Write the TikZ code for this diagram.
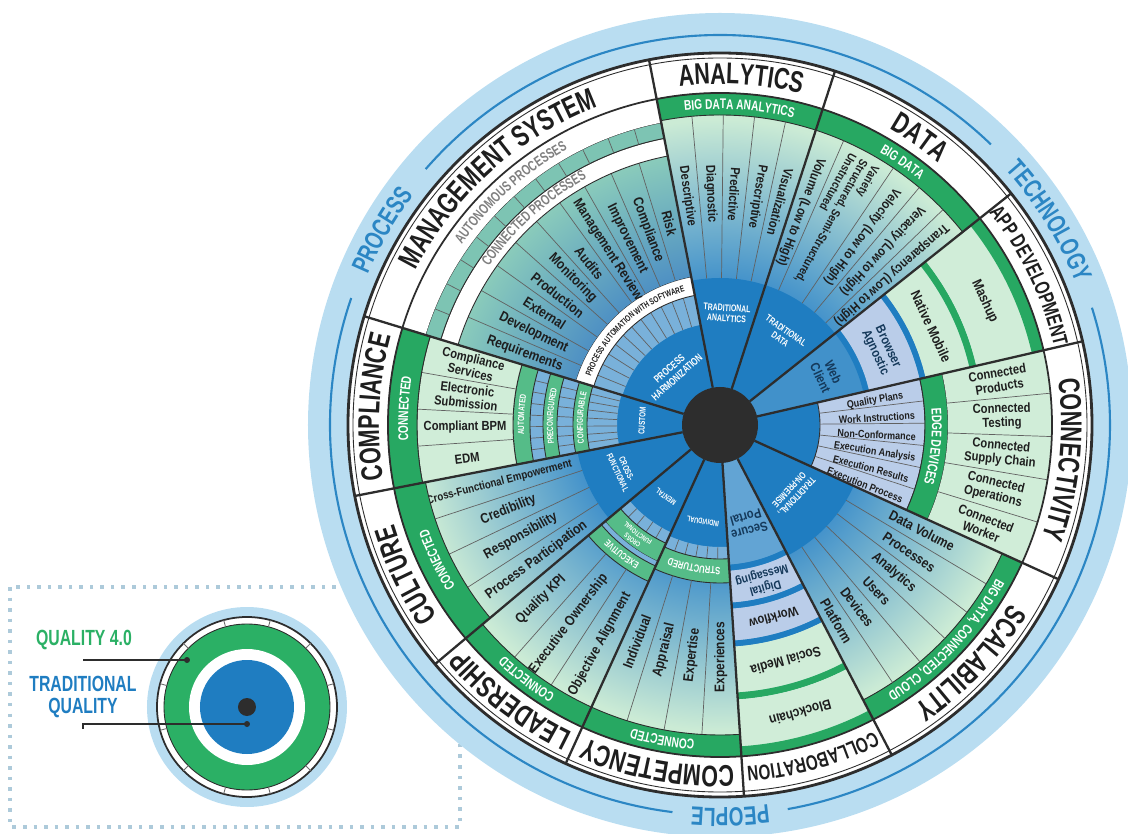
\documentclass[tikz,border=0pt]{standalone}
\usepackage{fontspec}
\setmainfont{Liberation Sans}
\newfontfamily\cond{Liberation Sans}[FakeStretch=0.72]
\newfontfamily\labf{Liberation Sans}[FakeStretch=0.85]
\usetikzlibrary{decorations.text}

\definecolor{lblue}{HTML}{B9DDF1}
\definecolor{lineblue}{HTML}{2B86C4}
\definecolor{tblue}{HTML}{1F7DC1}
\definecolor{wblue}{HTML}{3F8FCA}
\definecolor{wpale}{HTML}{CBEBD5}
\definecolor{gband}{HTML}{27A862}
\definecolor{sgreen}{HTML}{55BC88}
\definecolor{pgreen}{HTML}{D0EDD8}
\definecolor{peri}{HTML}{BACDE9}
\definecolor{tealband}{HTML}{7DC4B3}
\definecolor{mblue}{HTML}{4A8CC4}
\definecolor{mteal}{HTML}{8ACBBB}
\definecolor{dark}{HTML}{2D2D2D}
\definecolor{labtext}{HTML}{1E1E1E}
\definecolor{navy}{HTML}{15395A}
\definecolor{qgreen}{HTML}{2BB065}

\pgfdeclareradialshading{wheelshade}{\pgfpoint{0bp}{0bp}}{color(0bp)=(wblue); color(10.5bp)=(wblue); color(23bp)=(wpale); color(25bp)=(wpale); color(50bp)=(wpale)}
\pgfdeclareradialshading{mgmtshade}{\pgfpoint{0bp}{0bp}}{color(0bp)=(mblue); color(13bp)=(mblue); color(25bp)=(mteal); color(50bp)=(mteal)}

% annulus sector: angle from, angle to, inner r, outer r, style
\newcommand{\band}[5]{\fill[#5] (#1:#3) arc[start angle=#1,end angle=#2,radius=#3] -- (#2:#4) arc[start angle=#2,end angle=#1,radius=#4] -- cycle;}
% curved label, clockwise from #2 to #3 at radius #4
\newcommand{\arctext}[6][labtext]{\path[decorate,decoration={text along path,text color=#1,text align=center,text={|#5|#6}}] (#2:#4) arc[start angle=#2,end angle=#3,radius=#4];}
\newcommand{\catfont}{\cond\bfseries\fontsize{17}{17}\selectfont}
\newcommand{\smcatfont}{\cond\bfseries\fontsize{12}{12}\selectfont}
\newcommand{\ringfont}{\cond\bfseries\fontsize{15}{15}\selectfont}
\newcommand{\bandfont}{\cond\bfseries\fontsize{8}{8}\selectfont}
\newcommand{\procfont}{\cond\bfseries\fontsize{8.2}{8}\selectfont}
\newcommand{\tinyfont}{\cond\bfseries\fontsize{5}{5}\selectfont}

\begin{document}
\begin{tikzpicture}[x=0.02cm,y=0.02cm,
  spoke/.style={draw=dark,line width=1.3pt},
  subline/.style={draw=dark!75,line width=0.4pt},
  outline/.style={draw=dark,line width=0.5pt},
  sublab/.style={font=\labf\bfseries\fontsize{7.5}{8}\selectfont,text=labtext,inner sep=0pt},
  cell/.style={font=\labf\bfseries\fontsize{7.5}{8}\selectfont,text=labtext,align=center,inner sep=0pt},
  smallcell/.style={font=\labf\bfseries\fontsize{6}{6.5}\selectfont,text=labtext,inner sep=0pt},
  innerlab/.style={font=\cond\bfseries\fontsize{5.5}{6}\selectfont,text=white,align=center,inner sep=0pt},
  leader/.style={draw=dark,line width=1.2pt},
  inset/.style={draw=lblue!80!gray,line width=2pt,dash pattern=on 2pt off 4pt}]
\useasboundingbox (-720,-409) rectangle (408,425);

% small key at the lower left
\draw[inset] (-710,-162) rectangle (-260,-402);
\begin{scope}[shift={(-473,-282)}]
  \fill[lblue] (0,0) circle (100);
  \draw[dark,line width=1pt,fill=white] (0,0) circle (90);
  \fill[qgreen] (0,0) circle (83);
  \draw[dark,line width=0.5pt] (0,0) circle (83);
  \foreach \ang in {15,45,...,345} \draw[dark!70,line width=0.5pt] (\ang:83) -- (\ang:90);
  \fill[white] (0,0) circle (58);
  \fill[tblue] (0,0) circle (47);
  \fill[dark] (0,0) circle (9);
\end{scope}
\node[font=\cond\bfseries\fontsize{12.5}{12.5}\selectfont,text=qgreen] (q4lab) at (-636,-215) {QUALITY 4.0};
\node[font=\cond\bfseries\fontsize{12.5}{12}\selectfont,text=tblue,align=center] (tqlab) at (-637,-272) {TRADITIONAL\\QUALITY};
\coordinate (q4end) at (-533,-235);
\coordinate (tqend) at (-473,-299);
\draw[leader] ([yshift=-1mm]q4lab.south) |- (q4end);
\fill[dark] (q4end) circle (3);
\draw[leader] ([yshift=-1mm]tqlab.south) |- (tqend);
\fill[dark] (tqend) circle (3);

% outer ring
\fill[lblue] (0,0) circle (412);
\draw[lineblue,line width=1.2pt] (46:390) arc[start angle=46,end angle=139,radius=390];
\draw[lineblue,line width=1.2pt] (161:390) arc[start angle=161,end angle=263,radius=390];
\draw[lineblue,line width=1.2pt] (280:390) arc[start angle=280,end angle=377.5,radius=390];
\arctext[lineblue]{161}{139}{383}{\ringfont}{PROCESS}
\arctext[lineblue]{46}{17.5}{383}{\ringfont}{TECHNOLOGY}
\arctext[lineblue]{280}{263}{383}{\ringfont}{PEOPLE}
\fill[white] (0,0) circle (372);
\shade[shading=wheelshade] (0,0) circle (332);

% analytics
\band{72}{101}{38}{147}{tblue}
\band{72}{101}{310}{332}{gband,outline}
\foreach \ang in {77.8,83.6,89.4,95.2} \draw[subline] (\ang:147) -- (\ang:310);
\foreach \lab [count=\i] in {Descriptive,Diagnostic,Predictive,Prescriptive,Visualization}
  \node[sublab,rotate={-76.1-5.8*\i}] (an\i) at ({103.9-5.8*\i}:231) {\lab};
\arctext[white]{101}{72}{316}{\bandfont}{BIG DATA ANALYTICS}
\node[innerlab,rotate=-3.5] (tran) at (86.5:112) {TRADITIONAL\\ANALYTICS};

% data
\band{38.5}{72}{38}{147}{tblue}
\band{38.5}{72}{310}{332}{gband,outline}
\foreach \ang in {44,50,56,66.5} \draw[subline] (\ang:147) -- (\ang:310);
\node[sublab,rotate=-110.75] (da1) at (69.25:228) {Volume (Low to High)};
\node[sublab,font=\labf\bfseries\fontsize{6.8}{7.4}\selectfont,rotate=-118.75,align=left] (da2) at (61.25:232) {Variety\\Structured, Semi-Structured,\\Unstructured};
\node[sublab,rotate=-127] (da3) at (53:236) {Velocity (Low to High)};
\node[sublab,rotate=-133] (da4) at (47:238) {Veracity (Low to High)};
\node[sublab,rotate=-138.75] (da5) at (41.25:228) {Transparency (Low to High)};
\arctext[white]{72}{38.5}{316}{\bandfont}{BIG DATA}
\node[innerlab,rotate=-35] (trda) at (55:110) {TRADITIONAL\\DATA};

% app development
\band{13}{38.5}{38}{147}{tblue!85!white}
\band{13}{38.5}{147}{153}{tblue}
\band{13}{38.5}{153}{205}{peri}
\band{13}{38.5}{205}{211}{tblue}
\band{13}{38.5}{211}{256}{pgreen}
\band{13}{38.5}{256}{263}{gband}
\band{13}{38.5}{263}{320}{pgreen}
\band{13}{38.5}{320}{332}{gband}
\node[cell,text=navy,rotate=-65] (webc) at (25:118) {Web\\Client};
\node[cell,text=navy,rotate=-65] (brag) at (25:178) {Browser\\Agnostic};
\node[cell,font=\labf\bfseries\fontsize{8}{8}\selectfont,rotate=-65] (namo) at (25:233) {Native Mobile};
\node[cell,font=\labf\bfseries\fontsize{8}{8}\selectfont,rotate=-65] (mash) at (25:292) {Mashup};

% connectivity
\band{-24.5}{13}{38}{100}{tblue}
\band{-24.5}{13}{100}{205}{peri,outline}
\foreach \ang in {-18.25,-12,-5.75,0.5,6.75} \draw[subline] (\ang:100) -- (\ang:205);
\foreach \lab [count=\i] in {Quality Plans,Work Instructions,Non-Conformance,Execution Analysis,Execution Results,Execution Process}
  \node[smallcell,rotate={16.125-6.25*\i}] (cin\i) at ({15.125-6.25*\i}:157) {\lab};
\band{-24.5}{13}{205}{228}{gband,outline}
\arctext[white]{13}{-24.5}{212}{\bandfont}{EDGE DEVICES}
\band{-24.5}{13}{228}{332}{pgreen}
\foreach \ang in {-17,-9.5,-2,5.5} \draw[subline] (\ang:228) -- (\ang:332);
\foreach \lab [count=\i] in {{Connected\\Products},{Connected\\Testing},{Connected\\Supply Chain},{Connected\\Operations},{Connected\\Worker}}
  \node[cell,rotate={16.75-7.5*\i}] (cout\i) at ({16.75-7.5*\i}:282) {\lab};

% scalability
\band{-62.5}{-24.5}{38}{147}{tblue}
\band{-62.5}{-24.5}{310}{332}{gband,outline}
\foreach \ang in {-30.83,-37.17,-43.5,-49.83,-56.17} \draw[subline] (\ang:147) -- (\ang:310);
\foreach \lab [count=\i] in {Data Volume,Processes,Analytics,Users,Devices,Platform}
  \node[sublab,font=\labf\bfseries\fontsize{8}{8}\selectfont,rotate={-21.33-6.333*\i}] (sc\i) at ({-21.33-6.333*\i}:228) {\lab};
\arctext[white]{-24.5}{-62.5}{316}{\bandfont}{BIG DATA{,} CONNECTED{,} CLOUD}
\node[innerlab,rotate=-133] (trop) at (-43:100) {TRADITIONAL,\\ON-PREMISE};

% collaboration
\band{-86.3}{-62.5}{38}{140}{tblue!70!white}
\band{-86.3}{-62.5}{140}{146}{tblue}
\band{-86.3}{-62.5}{146}{178}{peri}
\band{-86.3}{-62.5}{178}{184}{tblue}
\band{-86.3}{-62.5}{184}{216}{peri}
\band{-86.3}{-62.5}{216}{222}{tblue}
\band{-86.3}{-62.5}{222}{268}{pgreen}
\band{-86.3}{-62.5}{268}{275}{gband}
\band{-86.3}{-62.5}{275}{322}{pgreen}
\band{-86.3}{-62.5}{322}{332}{gband}
\node[cell,text=navy,rotate=-164.4] (sepo) at (-74.4:103) {Secure\\Portal};
\node[cell,text=navy,font=\labf\bfseries\fontsize{7}{7.5}\selectfont,rotate=-164.4] (dime) at (-74.4:162) {Digital\\Messaging};
\node[cell,rotate=-164.4] (wofl) at (-74.4:200) {Workflow};
\node[cell,font=\labf\bfseries\fontsize{8}{8}\selectfont,rotate=-164.4] (some) at (-74.4:245) {Social Media};
\node[cell,font=\labf\bfseries\fontsize{8}{8}\selectfont,rotate=-164.4] (blch) at (-74.4:299) {Blockchain};

% competency
\band{-114.5}{-86.3}{38}{122}{tblue}
\band{-114.5}{-86.3}{122}{134}{tblue!60!white}
\foreach \ang in {-114.5,-109.8,...,-86.3} \draw[subline] (\ang:122) -- (\ang:134);
\band{-114.5}{-86.3}{134}{158}{sgreen,outline}
\arctext[white]{-86.3}{-114.5}{142}{\cond\bfseries\fontsize{6}{6}\selectfont}{STRUCTURED}
\foreach \ang in {-107.45,-100.4,-93.35} \draw[subline] (\ang:158) -- (\ang:310);
\foreach \lab [count=\i] in {Individual,Appraisal,Expertise,Experiences}
  \node[sublab,font=\labf\bfseries\fontsize{8}{8}\selectfont,rotate={61.975+7.05*\i}] (cp\i) at ({-118.025+7.05*\i}:232) {\lab};
\band{-114.5}{-86.3}{310}{332}{gband,outline}
\arctext[white]{-86.3}{-114.5}{316}{\bandfont}{CONNECTED}
\node[innerlab,font=\cond\bfseries\fontsize{4.5}{5}\selectfont,rotate=170] (indi) at (-100:98) {INDIVIDUAL};

% leadership
\band{-140}{-114.5}{38}{118}{tblue}
\band{-140}{-114.5}{118}{130}{tblue!60!white}
\foreach \ang in {-140,-134.9,...,-114.5} \draw[subline] (\ang:118) -- (\ang:130);
\band{-140}{-114.5}{130}{150}{sgreen,outline}
\arctext[white]{-114.5}{-140}{142.5}{\cond\bfseries\fontsize{4}{4}\selectfont}{CROSS}
\arctext[white]{-114.5}{-140}{134}{\cond\bfseries\fontsize{4}{4}\selectfont}{FUNCTIONAL}
\band{-140}{-114.5}{150}{155}{tblue!60!white}
\band{-140}{-114.5}{155}{172}{sgreen,outline}
\arctext[white]{-114.5}{-140}{160}{\cond\bfseries\fontsize{5.5}{5.5}\selectfont}{EXECUTIVE}
\foreach \ang in {-131.5,-123} \draw[subline] (\ang:172) -- (\ang:310);
\foreach \lab [count=\i] in {Quality KPI,Executive Ownership,Objective Alignment}
  \node[sublab,font=\labf\bfseries\fontsize{8}{8}\selectfont,rotate={35.75+8.5*\i}] (le\i) at ({-144.25+8.5*\i}:250) {\lab};
\band{-140}{-114.5}{310}{332}{gband,outline}
\arctext[white]{-114.5}{-140}{316}{\bandfont}{CONNECTED}
\node[innerlab,font=\cond\bfseries\fontsize{4.5}{5}\selectfont,rotate=143] (ment) at (-127:90) {MENTAL};

% culture
\band{-169}{-140}{38}{145}{tblue}
\foreach \ang in {-161.75,-154.5,-147.25} \draw[subline] (\ang:145) -- (\ang:300);
\node[sublab,font=\labf\bfseries\fontsize{6.5}{7}\selectfont,rotate=14.6] (cu1) at (-165.4:228) {Cross-Functional Empowerment};
\foreach \lab [count=\i from 2] in {Credibility,Responsibility,Process Participation}
  \node[sublab,font=\labf\bfseries\fontsize{8}{8}\selectfont,rotate={7.375+7.25*\i}] (cu\i) at ({-172.625+7.25*\i}:228) {\lab};
\band{-169}{-140}{300}{332}{gband,outline}
\arctext[white]{-140}{-169}{310}{\bandfont}{CONNECTED}
\node[innerlab,font=\cond\bfseries\fontsize{5}{5.5}\selectfont,rotate=-65] (crfu) at (-155:108) {CROSS-\\FUNCTIONAL};

% compliance
\band{163}{191}{38}{103}{tblue}
\band{163}{191}{103}{133}{tblue!60!white}
\band{163}{191}{147}{163}{tblue!60!white}
\band{163}{191}{177}{190}{tblue!60!white}
\foreach \ang in {163,166.5,...,191} {
  \draw[subline] (\ang:103) -- (\ang:133);
  \draw[subline] (\ang:147) -- (\ang:163);
  \draw[subline] (\ang:177) -- (\ang:190);
}
\band{163}{191}{133}{147}{sgreen,outline}
\band{163}{191}{163}{177}{sgreen,outline}
\band{163}{191}{190}{207}{sgreen,outline}
\arctext[white]{191}{163}{137}{\tinyfont}{CONFIGURABLE}
\arctext[white]{191}{163}{167}{\tinyfont}{PRECONFIGURED}
\arctext[white]{191}{163}{196}{\tinyfont}{AUTOMATED}
\band{163}{191}{207}{303}{pgreen,outline}
\foreach \ang in {170,177,184} \draw[subline] (\ang:207) -- (\ang:303);
\foreach \lab [count=\i] in {{Compliance\\Services},{Electronic\\Submission},{Compliant BPM},{EDM}}
  \node[cell,rotate={-20.5+7*\i}] (cm\i) at ({159.5+7*\i}:255) {\lab};
\band{163}{191}{303}{332}{gband,outline}
\arctext[white]{191}{163}{312}{\bandfont}{CONNECTED}
\node[innerlab,font=\cond\bfseries\fontsize{5}{5}\selectfont,rotate=87] (cust) at (177:78) {CUSTOM};

% management system
\band{101}{163}{38}{102}{tblue}
\band{101}{163}{102}{132}{tblue!60!white}
\foreach \ang in {101,106.1667,...,163} \draw[subline] (\ang:102) -- (\ang:132);
\band{101}{163}{132}{151}{white,outline}
\arctext{163}{101}{138}{\tinyfont}{PROCESS AUTOMATION WITH SOFTWARE}
\begin{scope}
  \clip (101:151) arc[start angle=101,end angle=163,radius=151] -- (163:274) arc[start angle=163,end angle=101,radius=274] -- cycle;
  \shade[shading=mgmtshade] (0,0) circle (274);
\end{scope}
\foreach \ang in {107.2,113.4,...,156.8} \draw[subline] (\ang:151) -- (\ang:274);
\foreach \lab [count=\i] in {Requirements,Development,External,Production,Monitoring,Audits,Management Review,Improvement,Compliance,Risk}
  \node[sublab,font=\labf\bfseries\fontsize{8}{8}\selectfont,rotate={-13.9-6.2*\i}] (ms\i) at ({166.1-6.2*\i}:208) {\lab};
\band{101}{163}{274}{292}{white,outline}
\band{101}{163}{292}{308}{tealband,outline}
\foreach \ang in {101,106.1667,...,163} \draw[subline] (\ang:292) -- (\ang:308);
\band{101}{163}{308}{332}{white}
\arctext[gray]{163}{101}{280}{\procfont}{CONNECTED PROCESSES}
\arctext[gray]{163}{101}{315}{\procfont}{AUTONOMOUS PROCESSES}
\node[innerlab,font=\cond\bfseries\fontsize{6}{6.5}\selectfont,rotate=42] (phar) at (132:70) {PROCESS\\HARMONIZATION};

% spokes and rims
\foreach \ang in {13,38.5,72,101,163,191,220,245.5,273.7,297.5,335.5}
  \draw[spoke] (\ang:38) -- (\ang:372);
\draw[dark,line width=1pt] (0,0) circle (332);
\draw[dark,line width=1.6pt] (0,0) circle (372);
\draw[dark,line width=0.5pt] (0,0) circle (367);
\fill[dark] (0,0) circle (38);

% category names
\arctext{101}{72}{341}{\catfont}{ANALYTICS}
\arctext{72}{38.5}{341}{\catfont}{DATA}
\arctext{38.5}{13}{343}{\smcatfont}{APP DEVELOPMENT}
\arctext{13}{-24.5}{341}{\catfont}{CONNECTIVITY}
\arctext{-24.5}{-62.5}{341}{\catfont}{SCALABILITY}
\arctext{-62.5}{-86.3}{343}{\smcatfont}{COLLABORATION}
\arctext{-86.3}{-114.5}{341}{\catfont}{COMPETENCY}
\arctext{-114.5}{-140}{341}{\catfont}{LEADERSHIP}
\arctext{-140}{-169}{341}{\catfont}{CULTURE}
\arctext{191}{163}{341}{\catfont}{COMPLIANCE}
\arctext{163}{101}{341}{\catfont}{MANAGEMENT SYSTEM}
\end{tikzpicture}
\end{document}
